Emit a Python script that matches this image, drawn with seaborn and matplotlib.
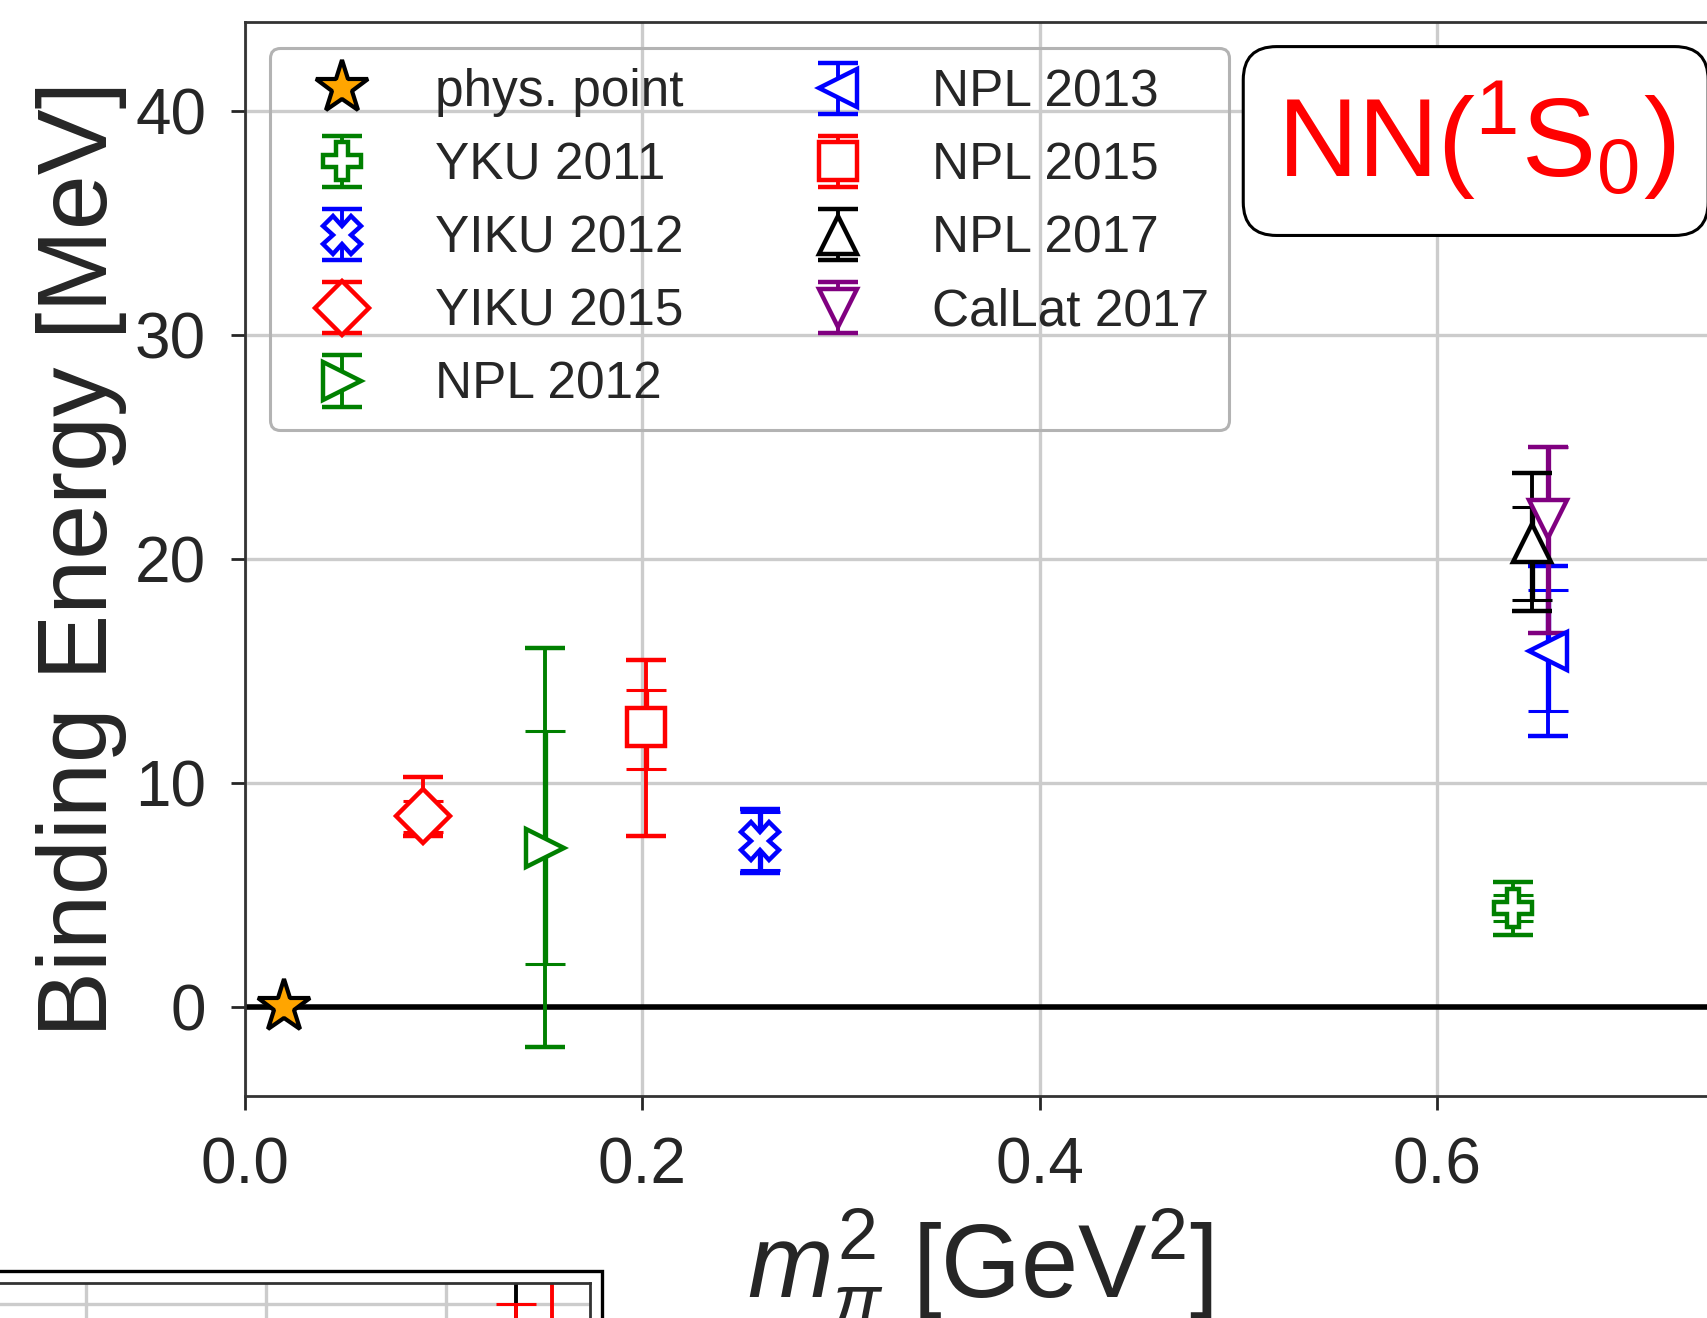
import matplotlib
matplotlib.use("Agg")
import matplotlib.pyplot as plt
import numpy as np
import pandas as pd
import seaborn as sns
from matplotlib.patches import Rectangle

# ---- lattice QCD dineutron binding energies vs. pion mass squared ----
labels = ["phys. point", "YKU 2011", "YIKU 2012", "YIKU 2015", "NPL 2012",
          "NPL 2013", "NPL 2015", "NPL 2017", "CalLat 2017"]
mpi2 = [0.0195, 0.638, 0.259, 0.0894, 0.1512, 0.656, 0.2016, 0.648, 0.656]
binding = [0.0, 4.4, 7.4, 8.5, 7.1, 15.9, 12.5, 20.7, 21.8]
stat_up = [0.0, 0.6, 1.3, 0.7, 5.2, 2.7, 1.65, 1.6, 3.2]
stat_dn = [0.0, 0.6, 1.3, 0.7, 5.2, 2.7, 1.9, 2.55, 5.1]
tot_up = [0.0, 1.15, 1.43, 1.75, 8.9, 3.8, 3.0, 3.15, 3.2]
tot_dn = [0.0, 1.2, 1.43, 0.86, 8.9, 3.8, 4.9, 3.05, 5.1]
markers = ["*", "P", "X", "D", ">", "<", "s", "^", "v"]
colors = ["orange", "green", "blue", "red", "green", "blue", "red", "black", "purple"]

xticks = [0.0, 0.2, 0.4, 0.6]
yticks = [0, 10, 20, 30, 40]

# neighbouring panel (partially visible, lower left)
side_x = [0.678, 0.678, 0.718]
side_y = [30.0, 30.0, 35.0]
side_err = [20.0, 10.0, 15.0]
side_colors = ["black", "red", "red"]

df = pd.DataFrame({"label": labels, "x": mpi2, "y": binding,
                   "su": stat_up, "sd": stat_dn, "tu": tot_up, "td": tot_dn,
                   "marker": markers, "color": colors})

sns.set_theme(style="ticks", rc={
    "axes.edgecolor": "0.2",
    "axes.linewidth": 1.0,
    "grid.color": "#cccccc",
    "grid.linewidth": 1.2,
    "xtick.color": "0.15",
    "ytick.color": "0.15",
    "text.color": "0.15",
    "axes.labelcolor": "0.15",
})
plt.rcParams["font.family"] = ["Liberation Sans", "DejaVu Sans"]
plt.rcParams["mathtext.fontset"] = "custom"
plt.rcParams["mathtext.rm"] = "Liberation Sans"
plt.rcParams["mathtext.it"] = "Liberation Sans:italic"
plt.rcParams["mathtext.bf"] = "Liberation Sans:bold"

DPI = 200
fig = plt.figure(figsize=(1707 / DPI, 1318 / DPI), dpi=DPI)
ax = fig.add_axes([0.1435, 0.1684, 0.9312, 0.8151])
ax.set_xlim(0, 0.8)
ax.set_ylim(-4, 44)
ax.set_xticks(xticks)
ax.set_yticks(yticks)
ax.set_xticklabels([f"{v:.1f}" for v in xticks])
ax.grid(True)
ax.tick_params(axis="both", labelsize=23, length=5, width=1.0)
ax.tick_params(axis="x", pad=9.5)
ax.tick_params(axis="y", pad=9)
for s in ["top", "right"]:
    ax.spines[s].set_visible(True)

ax.axhline(0, color="black", lw=2.0, zorder=1.5)

ms, mew, elw, cs, ct = 13.5, 1.6, 1.4, 7.2, 1.1
handles = {}
# CalLat drawn before NPL 2017 so the black triangle sits on top
draw_order = [0, 1, 2, 3, 4, 5, 6, 8, 7]
for i in draw_order:
    r = df.iloc[i]
    if r["label"] == "phys. point":
        h, = ax.plot([r["x"]], [r["y"]], ls="none", marker="*", ms=20,
                     mfc="orange", mec="black", mew=1.5, zorder=3)
        handles[r["label"]] = h
        continue
    h = ax.errorbar([r["x"]], [r["y"]], yerr=[[r["td"]], [r["tu"]]],
                    fmt=r["marker"], color=r["color"], mfc="white",
                    mec=r["color"], ms=ms, mew=mew, elinewidth=elw,
                    capsize=cs, capthick=ct)
    ax.errorbar([r["x"]], [r["y"]], yerr=[[r["sd"]], [r["su"]]],
                fmt="none", ecolor=r["color"], elinewidth=elw + 0.5,
                capsize=cs, capthick=ct)
    handles[r["label"]] = h

ax.set_ylabel("Binding Energy [MeV]", fontsize=35.6)
ax.set_xlabel(r"$m_\pi^2$ [GeV$^2$]", fontsize=37)
ax.yaxis.set_label_coords(-0.074, 0.5)
ax.xaxis.set_label_coords(0.4624, -0.1025)

leg = ax.legend([handles[l] for l in labels], labels, ncol=2,
                loc="upper left", bbox_to_anchor=(0.0157, 0.9758),
                borderaxespad=0, fontsize=18.5, handlelength=2.0,
                handletextpad=0.82, columnspacing=2.0, labelspacing=0.47,
                borderpad=0.4, frameon=True, fancybox=True, framealpha=1)
leg.get_frame().set_facecolor("none")
leg.get_frame().set_edgecolor("0.7")
leg.get_frame().set_linewidth(1.1)

fig.text(0.8645, 0.893, r"NN($^1$S$_0$)", color="red", fontsize=40,
         ha="center", va="center",
         bbox=dict(boxstyle="round,pad=0.3", fc="white", ec="black", lw=1.1))

# neighbouring panel, only its top edge falls inside the canvas
ax2 = fig.add_axes([-0.0554, -0.1646, 0.4011, 0.1912])
ax2.set_xlim(0, 0.76)
ax2.set_ylim(-4, 44)
ax2.set_xticks(xticks)
ax2.set_yticks(yticks)
ax2.grid(True)
ax2.tick_params(labelleft=False, labelbottom=False, length=0)
for xv, yv, ev, cv in zip(side_x, side_y, side_err, side_colors):
    ax2.errorbar([xv], [yv], yerr=[[ev], [ev]], fmt="none", ecolor=cv,
                 elinewidth=elw, capsize=cs, capthick=ct)
fig.patches.append(Rectangle((-0.01, -0.05), 0.3627, 0.0857,
                             transform=fig.transFigure, fill=False,
                             ec="black", lw=1.2, zorder=0))

fig.savefig("out.png", dpi=DPI)
